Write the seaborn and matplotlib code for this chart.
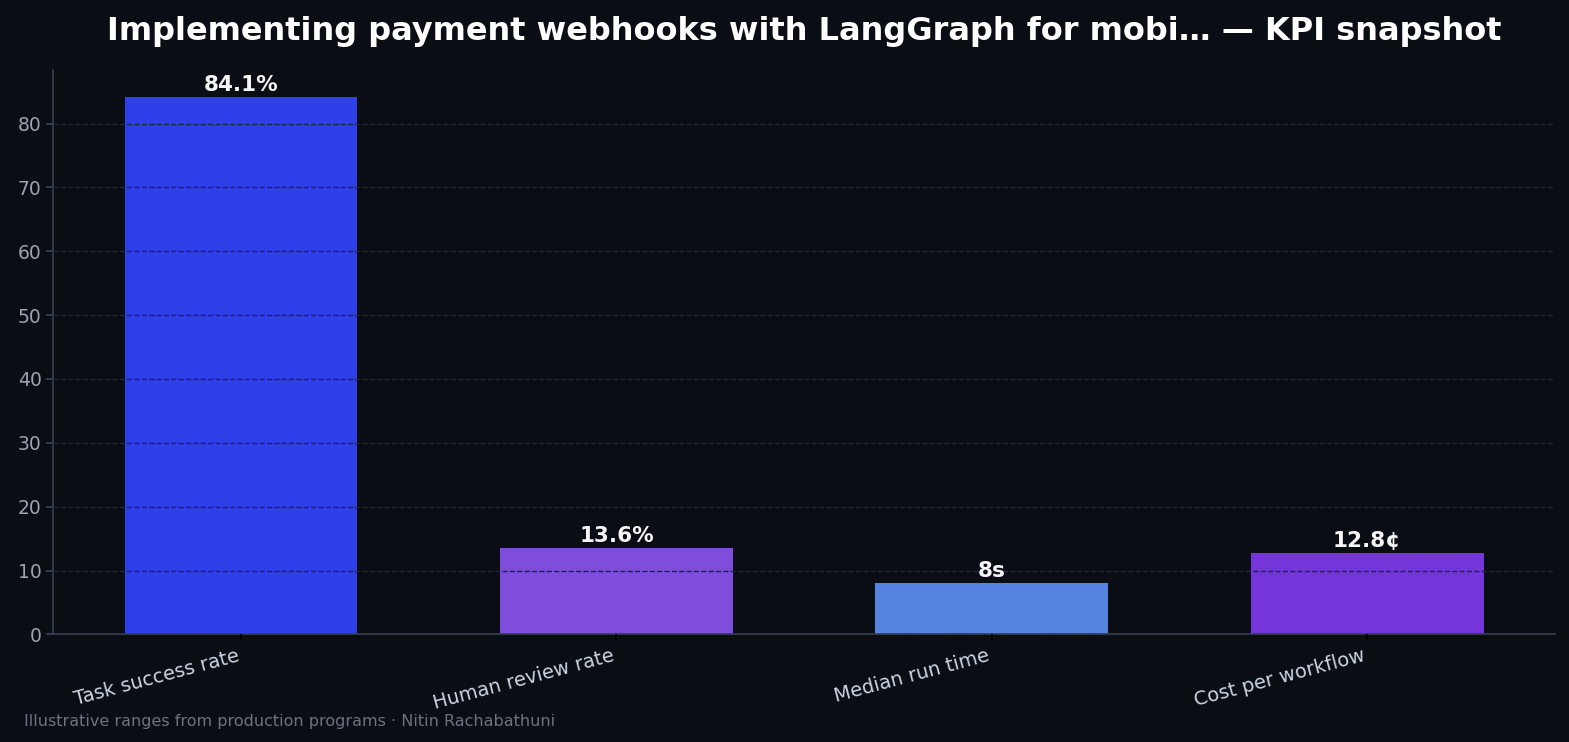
import pandas as pd
import matplotlib
matplotlib.use("Agg")
import matplotlib.pyplot as plt
import seaborn as sns

# KPI values
metrics = ["Task success rate", "Human review rate", "Median run time", "Cost per workflow"]
values = [84.1, 13.6, 8, 12.8]
value_labels = ["84.1%", "13.6%", "8s", "12.8¢"]
bar_colors = ["#2e40ea", "#7f4ddb", "#5584e0", "#7436d9"]

df = pd.DataFrame({"metric": metrics, "value": values})

bg = "#0a0d14"
sns.set_theme(style="dark")
plt.rcParams["font.family"] = ["DejaVu Sans"]

fig, ax = plt.subplots(figsize=(15.69, 7.42), dpi=100)
fig.patch.set_facecolor(bg)
ax.set_facecolor(bg)

sns.barplot(data=df, x="metric", y="value", hue="metric", palette=bar_colors,
            legend=False, width=0.62, saturation=1, edgecolor="none",
            linewidth=0, ax=ax)

for i, (v, lab) in enumerate(zip(values, value_labels)):
    ax.text(i, v + 0.3, lab, ha="center", va="bottom", color="#f5f5f5",
            fontsize=15.5, fontweight="bold")

ax.set_xlim(-0.5, 3.5)
ax.set_ylim(0, max(values) * 1.05)
ax.set_xlabel("")
ax.set_ylabel("")
ax.yaxis.grid(True, linestyle="--", color="#1f2535", linewidth=1)
ax.set_axisbelow(False)

for side in ["top", "right"]:
    ax.spines[side].set_visible(False)
for side in ["left", "bottom"]:
    ax.spines[side].set_visible(True)
    ax.spines[side].set_color("#374151")
    ax.spines[side].set_linewidth(1.2)

ax.tick_params(axis="y", colors="#374151", labelcolor="#9ca3af", labelsize=13.5,
               left=True, length=5)
ax.tick_params(axis="x", colors="#000000", labelcolor="#cbd5e1", labelsize=14,
               bottom=True, length=5)
plt.setp(ax.get_xticklabels(), rotation=15, ha="right")

ax.set_title("Implementing payment webhooks with LangGraph for mobi… — KPI snapshot",
             color="white", fontsize=23, fontweight="bold", pad=22)
fig.text(0.015, 0.022, "Illustrative ranges from production programs · Nitin Rachabathuni",
         color="#6b7280", fontsize=11.5)

plt.subplots_adjust(left=0.034, right=0.991, top=0.905, bottom=0.145)
plt.savefig("out.png", facecolor=bg)
